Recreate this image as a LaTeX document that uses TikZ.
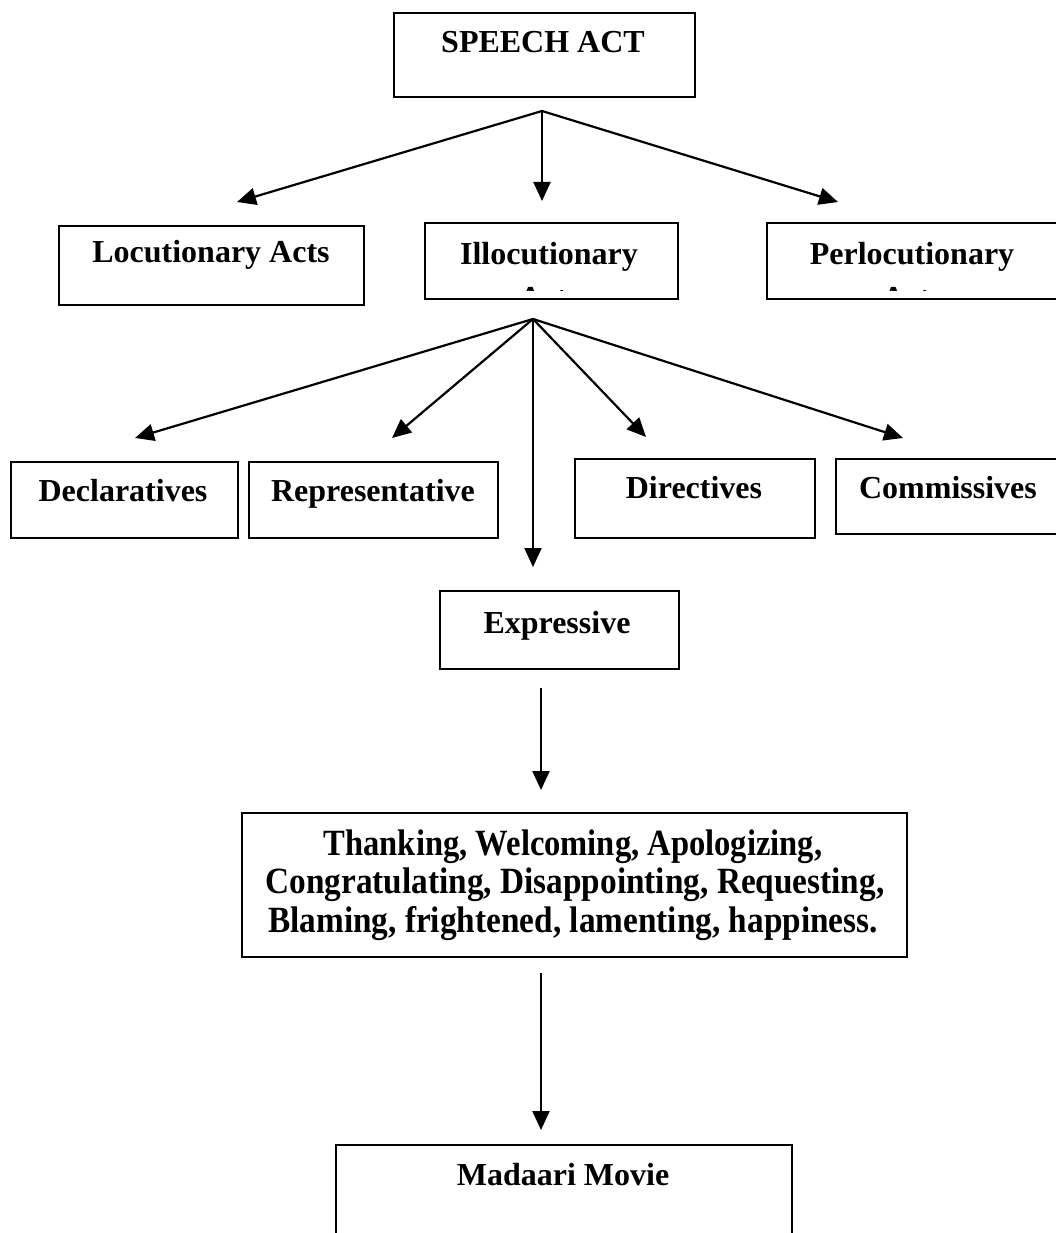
\documentclass[tikz,border=0pt]{standalone}
\usepackage{fontspec}
\setmainfont{Liberation Serif}
\usetikzlibrary{arrows.meta}
\newcommand\lbfont{\fontsize{32}{36}\selectfont\bfseries}
\newcommand\bigfont{\fontsize{37}{39}\selectfont\bfseries}
\begin{document}
\begin{tikzpicture}[x=1pt,y=-1pt,
  box/.style={draw, line width=2.2pt, inner sep=0pt, anchor=north west},
  lbl/.style={anchor=base, inner sep=0pt, font=\lbfont},
  biglbl/.style={anchor=base, inner sep=0pt, font=\bigfont},
  arr/.style={line width=2.2pt, -{Triangle[length=19pt,width=17pt]}}]
\clip (0,0) rectangle (1056,1233);
\fill[white] (0,0) rectangle (1056,1233);

% boxes
\node[box, minimum width=301pt, minimum height=84pt] (speech) at (393,12) {};
\node[box, minimum width=305pt, minimum height=79pt] (loc) at (58,225) {};
\node[box, minimum width=253pt, minimum height=76pt] (illo) at (424,222) {};
\node[box, minimum width=300pt, minimum height=76pt] (perlo) at (766,222) {};
\node[box, minimum width=227pt, minimum height=76pt] (decl) at (10,461) {};
\node[box, minimum width=249pt, minimum height=76pt] (repr) at (248,461) {};
\node[box, minimum width=240pt, minimum height=79pt] (dirc) at (574,458) {};
\node[box, minimum width=230pt, minimum height=75pt] (comm) at (835,458) {};
\node[box, minimum width=239pt, minimum height=78pt] (expr) at (439,590) {};
\node[box, minimum width=665pt, minimum height=144pt] (list) at (241,812) {};
\coordinate (madNW) at (336,1145);
\coordinate (madNE) at (792,1145);
\draw[line width=2.2pt] (madNW |- 0,1240) -- (madNW) -- (madNE) -- (madNE |- 0,1240);

% labels
\node[lbl] (speechT) at (543,53) {SPEECH ACT};
\node[lbl] (locT) at (211,262) {Locutionary Acts};
\node[lbl] (illoT) at (549,264) {Illocutionary};
\node[lbl] (perloT) at (912,264) {Perlocutionary};
\begin{scope}
  \clip (424,222) rectangle (1056,290);
  \node[lbl] (illoActs) at (549,308) {Acts};
  \node[lbl] (perloActs) at (912,308) {Acts};
\end{scope}
\node[lbl] (declT) at (123,501) {Declaratives};
\node[lbl] (reprT) at (373,501) {Representative};
\node[lbl] (dircT) at (694,498) {Directives};
\node[lbl] (commT) at (948,498) {Commissives};
\node[lbl] (exprT) at (557,633) {Expressive};
\node[biglbl] (listA) at (573,855) {\scalebox{0.88}[1]{Thanking, Welcoming, Apologizing,}};
\node[biglbl] (listB) at (575,893) {\scalebox{0.9}[1]{Congratulating, Disappointing, Requesting,}};
\node[biglbl] (listC) at (573,932) {\scalebox{0.9}[1]{Blaming, frightened, lamenting, happiness.}};
\node[lbl] (madT) at (563,1185) {Madaari Movie};

% connectors
\coordinate (sa) at (542,111);
\coordinate (ia) at (533,319);
\coordinate (tLoc) at (237,202);
\coordinate (tIllo) at (542,201);
\coordinate (tPerlo) at (838,202);
\coordinate (tDecl) at (135,438);
\coordinate (tRepr) at (392,438);
\coordinate (tExpr) at (533,567);
\coordinate (tDirc) at (646,437);
\coordinate (tComm) at (903,438);
\coordinate (eS) at (541,688);
\coordinate (eT) at (541,790);
\coordinate (lS) at (541,973);
\coordinate (lT) at (541,1130);

\draw[arr] (sa) -- (tLoc);
\draw[arr] (sa) -- (tIllo);
\draw[arr] (sa) -- (tPerlo);
\draw[arr] (ia) -- (tDecl);
\draw[arr] (ia) -- (tRepr);
\draw[arr] (ia) -- (tExpr);
\draw[arr] (ia) -- (tDirc);
\draw[arr] (ia) -- (tComm);
\draw[arr] (eS) -- (eT);
\draw[arr] (lS) -- (lT);
\end{tikzpicture}
\end{document}
